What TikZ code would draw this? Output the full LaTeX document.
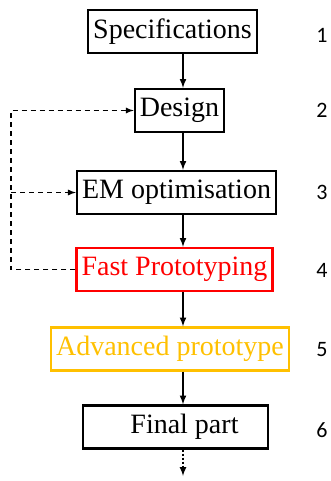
\documentclass[tikz,border=0pt]{standalone}
\usepackage{fontspec}
\setmainfont{Liberation Serif}
\newfontfamily\numfont{Carlito}
\usepackage{tikz}
\usetikzlibrary{arrows}

\definecolor{protored}{RGB}{255,0,0}
\definecolor{protogold}{RGB}{255,192,0}

\tikzset{
  stage/.style={draw=black, line width=2.3pt, minimum height=43pt, inner sep=5pt,
    font=\fontsize{28}{32}\selectfont},
  flow/.style={->, >=latex, line width=2pt},
  feedback/.style={->, >=latex, line width=1.7pt, dash pattern=on 5pt off 4pt},
  stepnum/.style={font=\numfont\fontsize{22}{24}\selectfont}
}

\begin{document}
\begin{tikzpicture}[x=1pt, y=-1pt]
\useasboundingbox (0,0) rectangle (331,481);

\node[stage] (spec) at (172.5,31.5) {Specifications};
\node[stage] (design) at (179.5,110.5) {Design};
\node[stage] (emopt) at (176.5,192.5) {EM optimisation};
\node[stage, draw=protored, text=protored] (fast) at (174.5,269.5) {Fast Prototyping};
\node[stage, draw=protogold, text=protogold] (adv) at (170,349) {Advanced prototype};
\node[stage, minimum width=185pt] (final) at (175.5,427) {\hspace*{18pt}Final part};

\coordinate (axis) at (183,0);
\coordinate (loop) at (11,0);
\coordinate (tail) at (183,476);

% main flow
\draw[flow] (spec.south -| axis) -- (design.north -| axis);
\draw[flow] (design.south -| axis) -- (emopt.north -| axis);
\draw[flow] (emopt.south -| axis) -- (fast.north -| axis);
\draw[flow] (fast.south -| axis) -- (adv.north -| axis);
\draw[flow] (adv.south -| axis) -- (final.north -| axis);
\draw[flow, dotted] (final.south -| axis) -- (tail);

% feedback loop
\draw[feedback] (fast.west) -- (fast.west -| loop) -- (design.west -| loop) -- (design.west);
\draw[feedback] (emopt.west -| loop) -- (emopt.west);

% step numbers
\foreach \n/\y in {1/35,2/110,3/192,4/270,5/350,6/430}
  \node[stepnum] (num\n) at (322,\y) {\n};
\end{tikzpicture}
\end{document}
